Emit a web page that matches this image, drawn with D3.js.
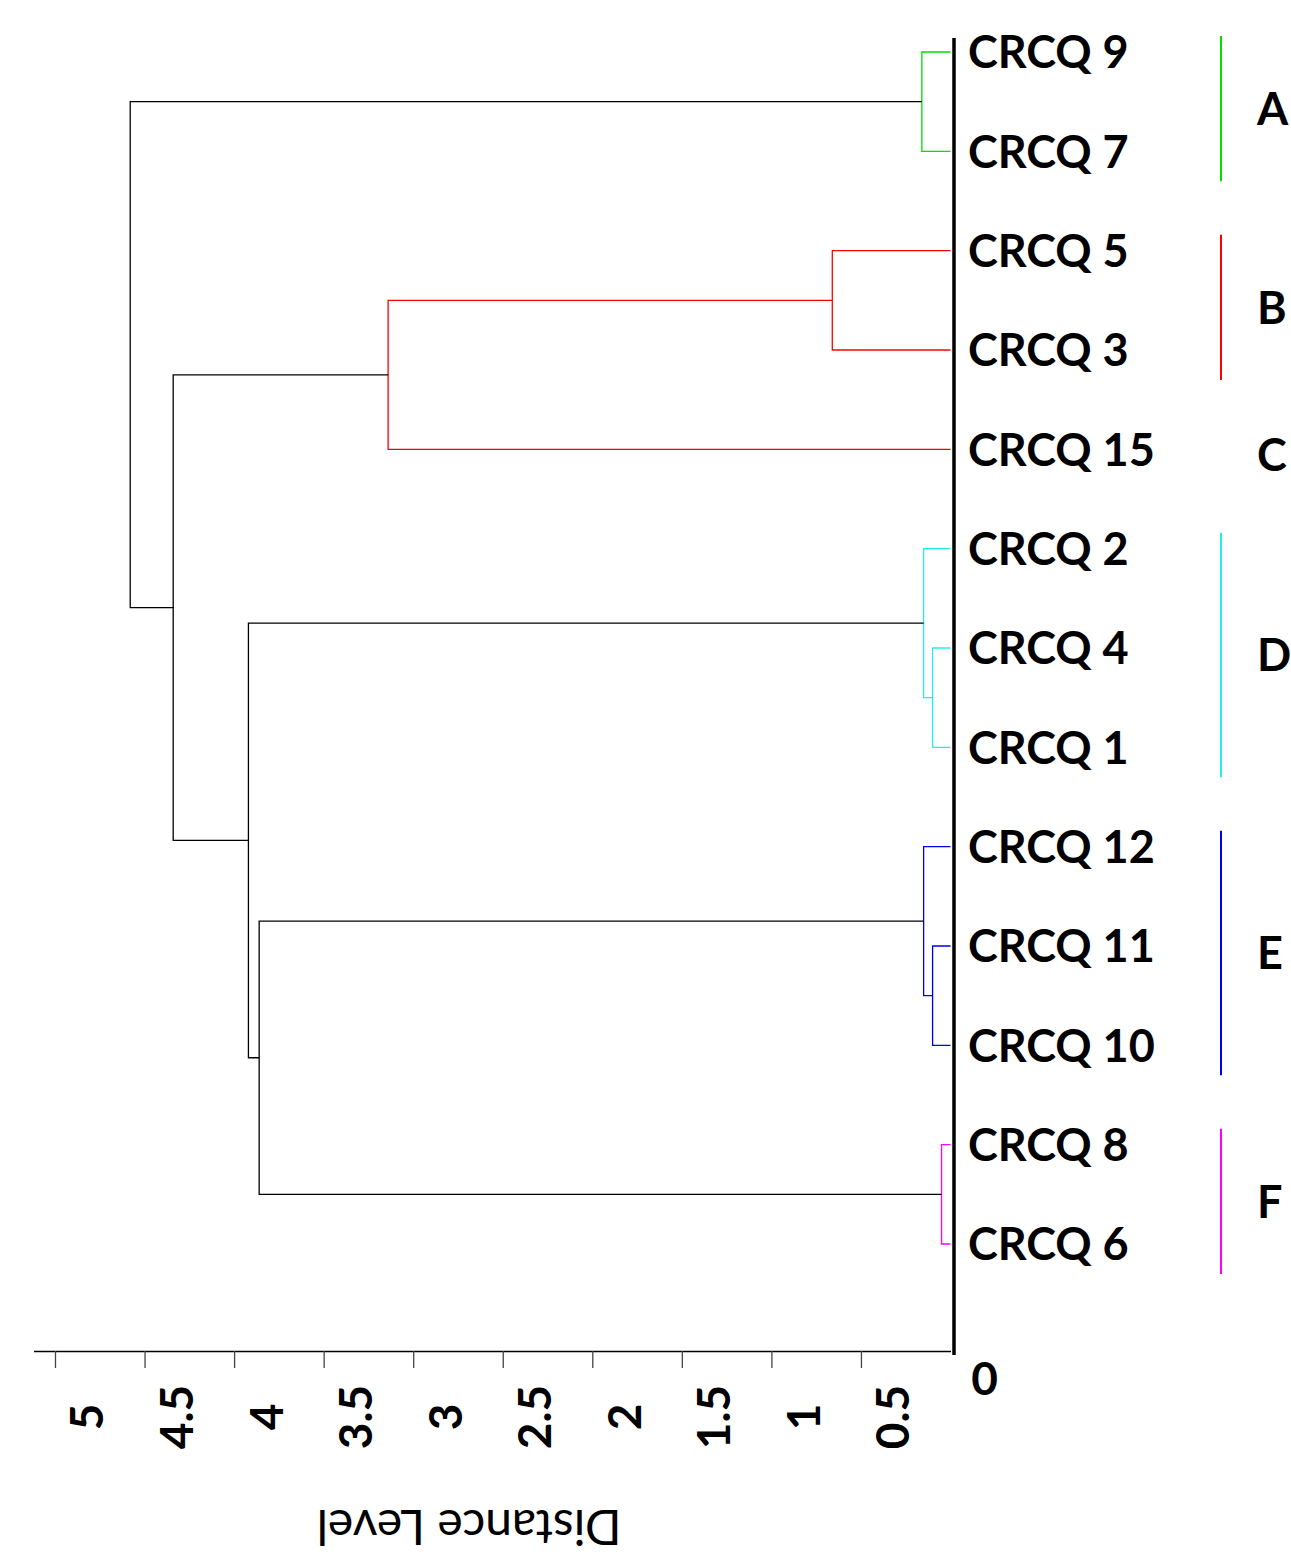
<!DOCTYPE html>
<html>
<head>
<meta charset="utf-8">
<script src="https://cdn.jsdelivr.net/npm/d3@7"></script>
<style>
  body { margin: 0; background: #fff; }
  svg text { font-family: Lato, "Open Sans", sans-serif; }
</style>
</head>
<body>
<svg id="chart" width="1291" height="1552"></svg>
<script>
// leaf order top to bottom
const leaves = ['CRCQ 9', 'CRCQ 7', 'CRCQ 5', 'CRCQ 3', 'CRCQ 15', 'CRCQ 2', 'CRCQ 4',
  'CRCQ 1', 'CRCQ 12', 'CRCQ 11', 'CRCQ 10', 'CRCQ 8', 'CRCQ 6'];

// merges: [id, left, right, distance]
const merges = [
  ['m0', 'CRCQ 9', 'CRCQ 7', 0.16],
  ['m1', 'CRCQ 5', 'CRCQ 3', 0.66],
  ['m2', 'm1', 'CRCQ 15', 3.14],
  ['m3', 'CRCQ 4', 'CRCQ 1', 0.10],
  ['m4', 'CRCQ 2', 'm3', 0.15],
  ['m5', 'CRCQ 11', 'CRCQ 10', 0.10],
  ['m6', 'CRCQ 12', 'm5', 0.15],
  ['m7', 'CRCQ 8', 'CRCQ 6', 0.05],
  ['m8', 'm6', 'm7', 3.86],
  ['m9', 'm4', 'm8', 3.92],
  ['m10', 'm2', 'm9', 4.34],
  ['m11', 'm0', 'm10', 4.58]
];

const colorThreshold = 3.5;
const branchColors = ['#00e000', '#ff0000', '#22eeee', '#0000ee', '#ff00ff'];

// cluster brackets on the right
const groupNames = ['A', 'B', 'C', 'D', 'E', 'F'];
const groupFirst = ['CRCQ 9', 'CRCQ 5', 'CRCQ 15', 'CRCQ 2', 'CRCQ 12', 'CRCQ 8'];
const groupLast = ['CRCQ 7', 'CRCQ 3', 'CRCQ 15', 'CRCQ 1', 'CRCQ 10', 'CRCQ 6'];
const groupColors = ['#00e000', '#ff0000', null, '#22eeee', '#0000ee', '#ff00ff'];

const tickValues = [0.5, 1, 1.5, 2, 2.5, 3, 3.5, 4, 4.5, 5];
const axisTitle = 'Distance Level';

const svg = d3.select('#chart');

const x = d3.scaleLinear().domain([0, 5.12]).range([950.5, 33.5]);
const y = d3.scalePoint().domain(leaves).range([52, 1244]);
const axisY = 1351;

// build nodes
const nodes = {};
leaves.forEach(name => { nodes[name] = { id: name, h: 0, y: y(name), children: null }; });
merges.forEach(([id, a, b, h]) => {
  const kids = [nodes[a], nodes[b]];
  nodes[id] = { id, h, y: d3.mean(kids, d => d.y), children: kids };
});

// colour subtrees below the threshold
let colorIndex = 0;
function paint(node, color) {
  if (!node.children) return;
  if (!color && node.h < colorThreshold) color = branchColors[colorIndex++];
  node.color = color || '#000';
  node.children.forEach(c => paint(c, color));
}
paint(nodes['m11'], null);

const links = svg.append('g').attr('fill', 'none').attr('stroke-width', 1.3);
merges.forEach(([id]) => {
  const n = nodes[id];
  const [c1, c2] = n.children;
  links.append('path')
    .attr('stroke', n.color)
    .attr('d', `M${x(c1.h)},${c1.y}H${x(n.h)}V${c2.y}H${x(c2.h)}`);
});

// bottom axis
const axis = d3.axisBottom(x)
  .tickValues(tickValues)
  .tickSizeInner(17)
  .tickSizeOuter(0)
  .tickFormat(d3.format(''));

const gx = svg.append('g')
  .attr('transform', `translate(0,${axisY})`)
  .call(axis);
gx.select('.domain').attr('stroke', '#000').attr('stroke-width', 1.3);
gx.selectAll('.tick line').attr('stroke', '#444').attr('stroke-width', 1.3);
gx.selectAll('.tick text')
  .attr('transform', 'rotate(-90)')
  .attr('x', -66)
  .attr('y', 48)
  .attr('dy', 0)
  .attr('text-anchor', 'middle')
  .attr('fill', '#000')
  .style('font-size', '46px')
  .style('font-weight', 'bold');

svg.append('text')
  .attr('x', x(0) + 34)
  .attr('y', 1395)
  .attr('text-anchor', 'middle')
  .style('font-size', '46px')
  .style('font-weight', 'bold')
  .text('0');

// thick baseline at zero
svg.append('line')
  .attr('x1', x(0) + 3.5).attr('x2', x(0) + 3.5)
  .attr('y1', 38).attr('y2', axisY + 4)
  .attr('stroke', '#000')
  .attr('stroke-width', 3.5);

svg.append('text')
  .attr('transform', 'translate(469,1527) rotate(180)')
  .attr('text-anchor', 'middle')
  .attr('dy', '0.35em')
  .style('font-size', '48px')
  .text(axisTitle);

// leaf labels
svg.append('g').selectAll('text')
  .data(leaves)
  .join('text')
  .attr('x', 968)
  .attr('y', d => y(d))
  .attr('dy', '0.36em')
  .style('font-size', '45px')
  .style('font-weight', 'bold')
  .text(d => d);

// cluster brackets
const groups = svg.append('g');
groupNames.forEach((g, i) => {
  const top = y(groupFirst[i]) - 16;
  const bottom = y(groupLast[i]) + 30;
  if (groupColors[i]) {
    groups.append('line')
      .attr('x1', 1221).attr('x2', 1221)
      .attr('y1', top).attr('y2', bottom)
      .attr('stroke', groupColors[i])
      .attr('stroke-width', 2);
  }
  groups.append('text')
    .attr('x', 1257)
    .attr('y', groupColors[i] ? (top + bottom) / 2 : y(groupFirst[i]) + 5)
    .attr('dy', '0.36em')
    .style('font-size', '45px')
    .style('font-weight', 'bold')
    .text(g);
});
</script>
</body>
</html>
